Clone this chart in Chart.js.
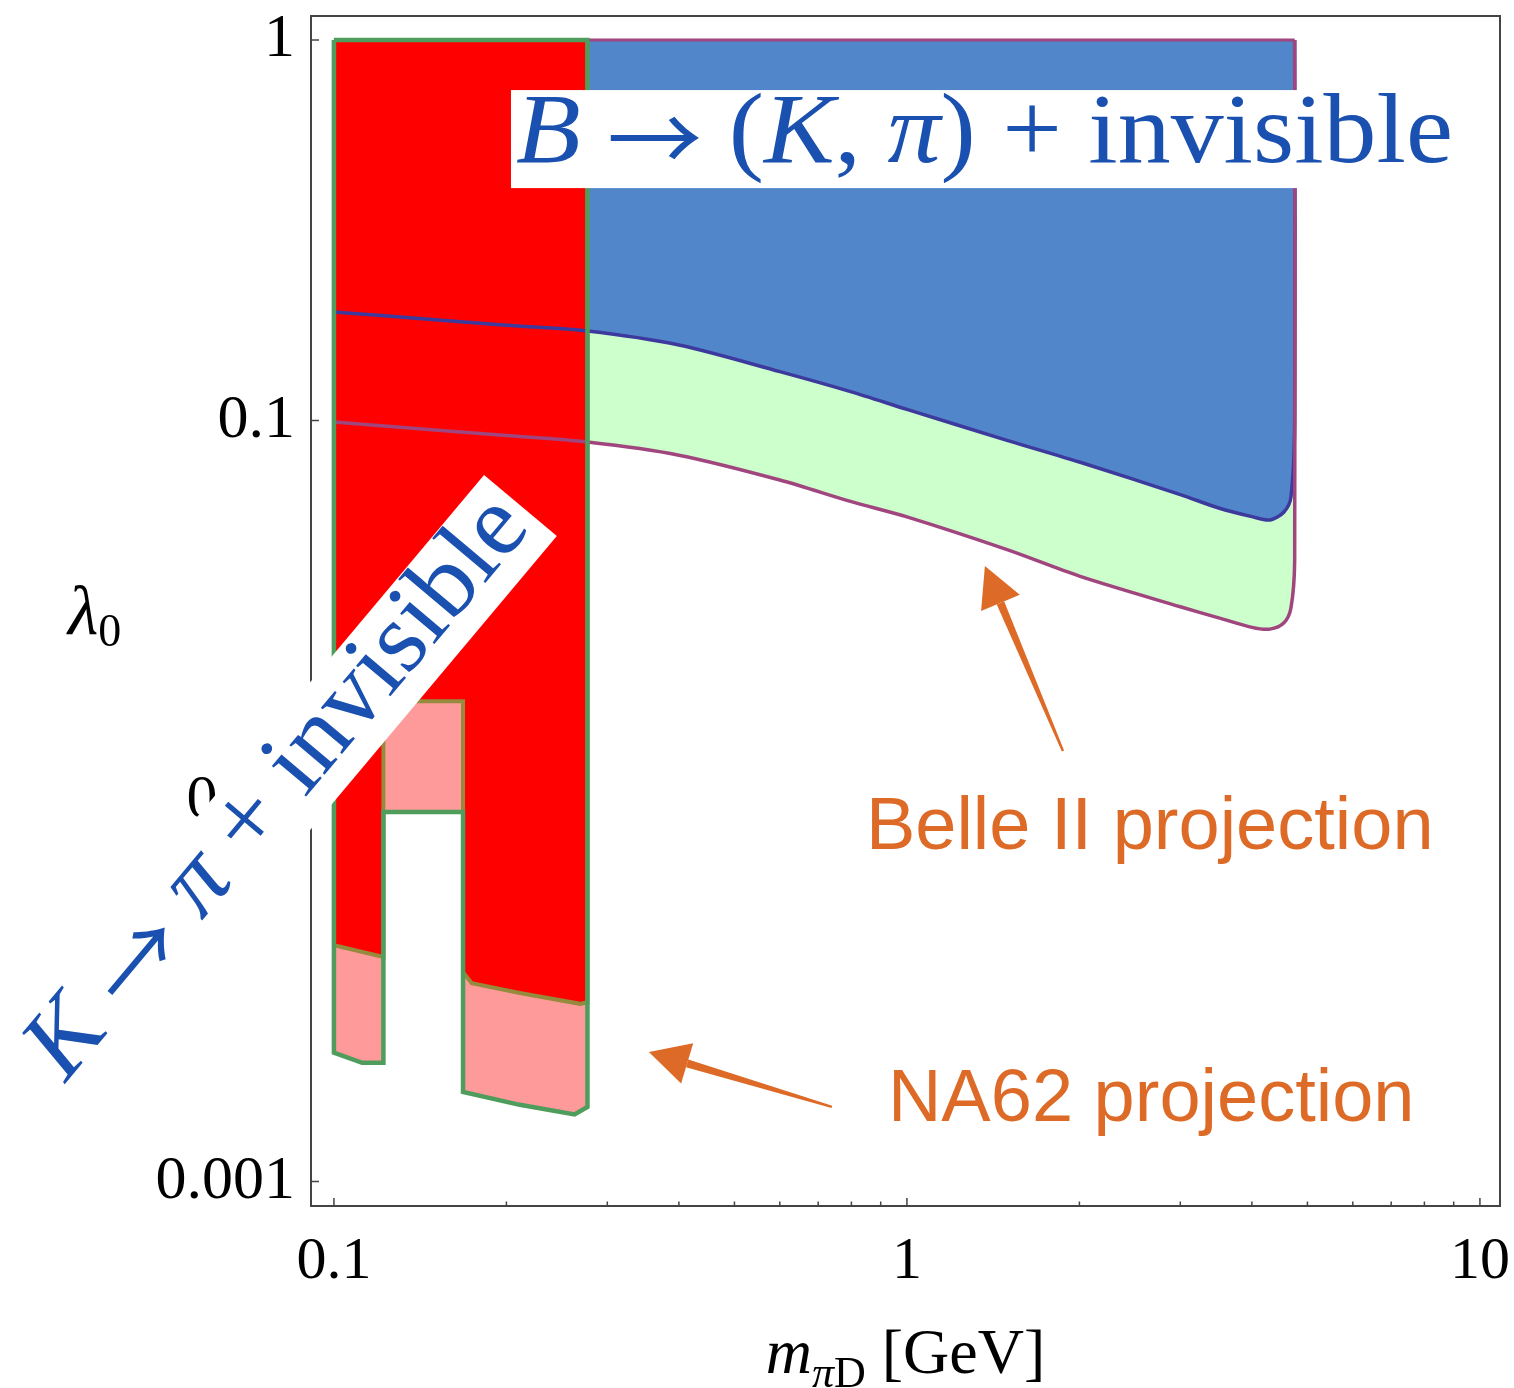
<!DOCTYPE html>
<html>
<head>
<meta charset="utf-8">
<script src="https://cdn.jsdelivr.net/npm/chart.js@4.4.1/dist/chart.umd.min.js"></script>
<style>
  html, body { margin: 0; padding: 0; background: #fff; }
  #wrap { width: 1514px; height: 1388px; }
</style>
</head>
<body>
<div id="wrap"><canvas id="chart" width="1514" height="1388"></canvas></div>
<script>
const SERIF = '"Liberation Serif", "Times New Roman", serif';
const SANS = '"Liberation Sans", Arial, sans-serif';
const ARROW_FONT = '"Noto Sans CJK JP", "DejaVu Sans", sans-serif';

// axes
const xRange = [0.0912, 10.84];
const yRange = [0.000862, 1.157];
const xTickValues = [0.1, 1, 10];
const xTickLabels = ["0.1", "1", "10"];
const xMinorValues = [0.2, 0.3, 0.4, 0.5, 0.6, 0.7, 0.8, 0.9, 2, 3, 4, 5, 6, 7, 8, 9];
const yTickValues = [0.001, 0.01, 0.1, 1];
const yTickLabels = ["0.001", "0.01", "0.1", "1"];

// B -> (K, pi) + invisible: current bound (blue) and Belle II projection (green)
const bMass = [0.1, 0.15, 0.2, 0.277, 0.4, 0.6, 0.8, 1, 1.5, 2, 3, 3.5, 4, 4.3, 4.55, 4.68, 4.75];
const bCurrent = [0.193, 0.184, 0.178, 0.172, 0.158, 0.1345, 0.119, 0.107, 0.0886, 0.0778, 0.0639, 0.0589, 0.0559, 0.0548, 0.0575, 0.063, 0.1];
const bBelle = [0.0991, 0.0944, 0.0913, 0.0878, 0.0811, 0.0698, 0.0612, 0.0558, 0.0457, 0.039, 0.0324, 0.0303, 0.0286, 0.0283, 0.0294, 0.0322, 0.043];
const lambdaTop = 1;

// K -> pi + invisible: current bound (red) and NA62 projection (pink), outlines
const kCurrentMass = [0.1, 0.277, 0.277, 0.269, 0.211, 0.174, 0.168, 0.168, 0.122, 0.122, 0.1];
const kCurrentLambda = [1, 1, 0.00296, 0.00293, 0.00313, 0.00332, 0.00355, 0.0183, 0.0183, 0.00389, 0.00418];
const kNA62Mass = [0.1, 0.277, 0.277, 0.263, 0.211, 0.168, 0.168, 0.122, 0.122, 0.112, 0.1];
const kNA62Lambda = [1, 1, 0.00157, 0.0015, 0.00159, 0.00172, 0.00936, 0.00936, 0.00205, 0.00205, 0.00218];

// annotation anchors (data coordinates)
const bLabel = { left: 0.2037, right: 9.3, top: 0.739, bottom: 0.4083, textLeft: 0.2078, textRight: 8.97, base: 0.4778 };
const kLabel = { endX: 0.2116, endY: 0.0598, angle: 50, length: 775, height: 95, textWidth: 725 };
const belleText = { x: 0.848, y: 0.00748 };
const na62Text = { x: 0.9265, y: 0.001442 };
const belleArrow = { from: [1.872, 0.01353], to: [1.368, 0.04146] };
const na62Arrow = { from: [0.7396, 0.00157], to: [0.3545, 0.00219] };

const BLUE_TEXT = "#1a50b0";
const ORANGE = "#dd6a26";

const pts = (xs, ys) => xs.map((x, i) => ({ x, y: ys[i] }));
const closed = (p) => p.concat([p[0]]);
const last = (a) => a[a.length - 1];

// curves closed up to lambda = 1 at the kinematic edge
const blueCurve = pts(bMass, bCurrent).concat([{ x: last(bMass), y: lambdaTop }]);
const purpleCurve = pts(bMass, bBelle).concat([{ x: last(bMass), y: lambdaTop }]);
const topEdge = [{ x: kNA62Mass[1], y: lambdaTop }, { x: last(bMass), y: lambdaTop }];
const redShape = closed(pts(kCurrentMass, kCurrentLambda));
const pinkShape = closed(pts(kNA62Mass, kNA62Lambda));

function ds(label, data, extra) {
  return Object.assign({ label, data, pointRadius: 0, pointHoverRadius: 0, tension: 0, borderWidth: 0, fill: false }, extra);
}

function drawRun(ctx, pieces, x, y, width) {
  let total = 0;
  pieces.forEach((p) => { ctx.font = p[1]; total += ctx.measureText(p[0]).width; });
  const s = width ? width / total : 1;
  ctx.save();
  ctx.translate(x, y);
  ctx.scale(s, 1);
  let cx = 0;
  pieces.forEach((p) => {
    ctx.font = p[1];
    ctx.fillText(p[0], cx, p[2] || 0);
    cx += ctx.measureText(p[0]).width;
  });
  ctx.restore();
  return total;
}

function runWidth(ctx, pieces) {
  let total = 0;
  pieces.forEach((p) => { ctx.font = p[1]; total += ctx.measureText(p[0]).width; });
  return total;
}

function drawArrow(ctx, x0, y0, x1, y1) {
  const len = Math.hypot(x1 - x0, y1 - y0);
  const ux = (x1 - x0) / len, uy = (y1 - y0) / len, nx = -uy, ny = ux;
  const headLen = 40, headHalf = 21;
  const bx = x1 - ux * headLen, by = y1 - uy * headLen;
  ctx.fillStyle = ORANGE;
  ctx.beginPath();
  ctx.moveTo(x0 + nx * 1.2, y0 + ny * 1.2);
  ctx.lineTo(bx + nx * 4, by + ny * 4);
  ctx.lineTo(bx - nx * 4, by - ny * 4);
  ctx.lineTo(x0 - nx * 1.2, y0 - ny * 1.2);
  ctx.closePath();
  ctx.fill();
  ctx.beginPath();
  ctx.moveTo(x1, y1);
  ctx.lineTo(bx + nx * headHalf, by + ny * headHalf);
  ctx.lineTo(bx - nx * headHalf, by - ny * headHalf);
  ctx.closePath();
  ctx.fill();
}

const decorations = {
  id: "decorations",
  afterDatasetsDraw(chart) {
    const { ctx, chartArea: a } = chart;
    const xs = chart.scales.x, ys = chart.scales.y;
    ctx.save();
    ctx.strokeStyle = "#444";
    ctx.lineWidth = 2;
    ctx.strokeRect(a.left, a.top, a.right - a.left, a.bottom - a.top);
    ctx.lineWidth = 1.5;
    ctx.beginPath();
    xTickValues.concat(xMinorValues).forEach((v) => {
      const px = xs.getPixelForValue(v);
      const len = xTickValues.includes(v) ? 8 : 4.5;
      ctx.moveTo(px, a.bottom);
      ctx.lineTo(px, a.bottom - len);
    });
    yTickValues.forEach((v) => {
      const py = ys.getPixelForValue(v);
      ctx.moveTo(a.left, py);
      ctx.lineTo(a.left + 8, py);
    });
    ctx.stroke();
    ctx.restore();
  },
  afterDraw(chart) {
    const { ctx, chartArea: a } = chart;
    const X = (v) => chart.scales.x.getPixelForValue(v);
    const Y = (v) => chart.scales.y.getPixelForValue(v);
    const it = (s) => `italic ${s}px ${SERIF}`;
    const rm = (s) => `${s}px ${SERIF}`;
    const arrow = `90px ${ARROW_FONT}`;
    ctx.save();
    ctx.textAlign = "left";
    ctx.textBaseline = "alphabetic";

    // B -> (K, pi) + invisible
    ctx.fillStyle = "#fff";
    ctx.fillRect(X(bLabel.left), Y(bLabel.top), X(bLabel.right) - X(bLabel.left), Y(bLabel.bottom) - Y(bLabel.top));
    ctx.fillStyle = BLUE_TEXT;
    drawRun(ctx, [["B", it(100)], [" ", rm(100)], ["\u2192", arrow, 10], [" ", rm(100)], ["(", rm(100)], ["K", it(100)],
      [", ", rm(100)], ["\u03c0", it(100)], [")", rm(100)], [" + ", rm(100)], ["invisible", rm(100)]],
      X(bLabel.textLeft), Y(bLabel.base), X(bLabel.textRight) - X(bLabel.textLeft));

    // K -> pi + invisible (rotated)
    ctx.save();
    ctx.translate(X(kLabel.endX), Y(kLabel.endY));
    ctx.rotate(-kLabel.angle * Math.PI / 180);
    ctx.fillStyle = "#fff";
    ctx.fillRect(-kLabel.length, -kLabel.height / 2, kLabel.length, kLabel.height);
    ctx.fillStyle = BLUE_TEXT;
    drawRun(ctx, [["K", it(100)], [" ", rm(100)], ["\u2192", arrow, 10], [" ", rm(100)], ["\u03c0", it(100)],
      [" + ", rm(100)], ["invisible", rm(100)]],
      -10 - kLabel.textWidth, 23, kLabel.textWidth);
    ctx.restore();

    // projections
    ctx.fillStyle = ORANGE;
    ctx.font = `74px ${SANS}`;
    ctx.fillText("Belle II projection", X(belleText.x), Y(belleText.y));
    ctx.fillText("NA62 projection", X(na62Text.x), Y(na62Text.y));
    drawArrow(ctx, X(belleArrow.from[0]), Y(belleArrow.from[1]), X(belleArrow.to[0]), Y(belleArrow.to[1]));
    drawArrow(ctx, X(na62Arrow.from[0]), Y(na62Arrow.from[1]), X(na62Arrow.to[0]), Y(na62Arrow.to[1]));

    // axis titles
    ctx.fillStyle = "#000";
    const xTitle = [["m", it(64)], ["\u03c0", it(44), 14], ["D", rm(44), 14], [" [GeV]", rm(64)]];
    const w = runWidth(ctx, xTitle);
    drawRun(ctx, xTitle, (a.left + a.right) / 2 - w / 2, 1373);
    drawRun(ctx, [["\u03bb", it(70)], ["0", rm(46), 12]], 68, 634);
    ctx.restore();
  }
};

new Chart(document.getElementById("chart"), {
  type: "line",
  data: {
    datasets: [
      ds("Belle II region", purpleCurve, { fill: { value: lambdaTop }, backgroundColor: "#ccffcc", tension: 0.3, order: 10 }),
      ds("B bound region", blueCurve, { fill: { value: lambdaTop }, backgroundColor: "#5286cb", tension: 0.3, order: 9 }),
      ds("NA62 region", pinkShape, { fill: "shape", backgroundColor: "#ff9a9a", order: 8 }),
      ds("K bound region", redShape, { fill: "shape", backgroundColor: "#ff0000", borderColor: "#958a3e", borderWidth: 4, order: 7 }),
      ds("B bound", blueCurve, { borderColor: "#3d3a9e", borderWidth: 3.5, tension: 0.3, order: 6 }),
      ds("Belle II", purpleCurve, { borderColor: "#a0457e", borderWidth: 3.5, tension: 0.3, order: 5 }),
      ds("Belle II top", topEdge, { borderColor: "#a0457e", borderWidth: 3, order: 5 }),
      ds("NA62 outline", pinkShape, { borderColor: "#4f9d5d", borderWidth: 4.5, order: 4 }),
    ],
  },
  options: {
    responsive: false,
    devicePixelRatio: 1,
    animation: false,
    layout: { padding: { top: 16, right: 14, left: 0, bottom: 0 } },
    plugins: { legend: { display: false }, tooltip: { enabled: false } },
    scales: {
      x: {
        type: "logarithmic",
        min: xRange[0],
        max: xRange[1],
        afterBuildTicks: (s) => { s.ticks = xTickValues.map((v) => ({ value: v })); },
        afterFit: (s) => { s.height = 182; s.paddingLeft = 0; s.paddingRight = 0; },
        ticks: {
          autoSkip: false, maxRotation: 0, padding: 20, color: "#000",
          font: { family: SERIF, size: 60 },
          callback: (v, i) => xTickLabels[i],
        },
        grid: { display: false, drawTicks: false },
        border: { display: false },
      },
      y: {
        type: "logarithmic",
        min: yRange[0],
        max: yRange[1],
        afterBuildTicks: (s) => { s.ticks = yTickValues.map((v) => ({ value: v })); },
        afterFit: (s) => { s.width = 311; s.paddingTop = 0; s.paddingBottom = 0; },
        ticks: {
          autoSkip: false, padding: 16, color: "#000",
          font: { family: SERIF, size: 62 },
          callback: (v, i) => yTickLabels[i],
        },
        grid: { display: false, drawTicks: false },
        border: { display: false },
      },
    },
  },
  plugins: [decorations],
});
</script>
</body>
</html>
